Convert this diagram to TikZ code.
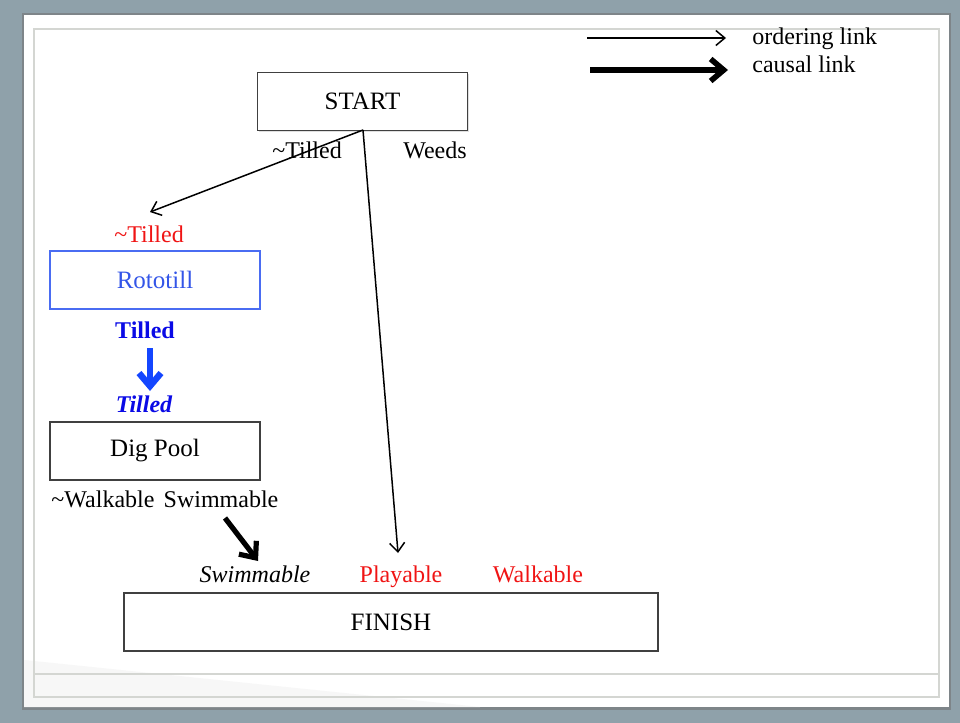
\documentclass[tikz,border=0pt]{standalone}
\usepackage{fontspec}
\setmainfont{Liberation Serif}
\usetikzlibrary{arrows.meta,shadows}
\definecolor{frameback}{HTML}{8FA1AA}
\definecolor{frameline}{HTML}{D4D6D2}
\definecolor{boxline}{HTML}{404040}
\definecolor{rotoblue}{HTML}{4A6CF2}
\definecolor{rototxt}{HTML}{3355E8}
\definecolor{labblue}{HTML}{0A0AE6}
\definecolor{arrblue}{HTML}{1446FF}
\definecolor{labred}{HTML}{F01414}
\begin{document}
\begin{tikzpicture}[x=0.5pt,y=-0.5pt,
  box/.style={draw=boxline, line width=0.9pt, fill=white, inner sep=0pt,
    minimum width=105pt, minimum height=29pt,
    font=\fontsize{12.5}{14}\selectfont,
    drop shadow={shadow xshift=0.5pt, shadow yshift=-0.7pt, opacity=0.25}},
  lbl/.style={inner sep=0pt, anchor=base, font=\fontsize{12}{14}\selectfont},
  ordlink/.style={line width=0.75pt, -{Straight Barb[length=4.5pt,width=7.5pt]}},
  causlink/.style={line width=2.6pt, -{Straight Barb[length=6.5pt,width=11pt]}},
]
\useasboundingbox (0,0) rectangle (960,723);
% background frame
\fill[frameback] (0,0) rectangle (960,723);
\fill[black!55, opacity=0.6] (22,13) rectangle (951,710);
\fill[white] (24,15) rectangle (949,707);
\fill[black!3] (24,660) -- (480,707) -- (24,707) -- cycle;
\draw[frameline, line width=0.6pt] (34,29) rectangle (939,697);
\draw[frameline, line width=0.6pt] (34,674) -- (939,674);

% legend
\coordinate (o1) at (587,38);
\coordinate (o2) at (726,38);
\coordinate (c1) at (590,70);
\coordinate (c2) at (728,70);
\draw[ordlink] (o1) -- (o2);
\draw[causlink, line width=2.8pt] (c1) -- (c2);
\node[lbl, anchor=base west] (ordtxt) at (752,44) {ordering link};
\node[lbl, anchor=base west] (caustxt) at (752,72) {causal link};

% boxes
\node[box] (start) at (362.5,101.5) {START};
\node[box, draw=rotoblue, text=rototxt] (roto) at (155,280) {Rototill};
\node[box] (dig) at (155,451) {Dig Pool};
\node[box, minimum width=267pt] (finish) at (391,622) {FINISH};

% labels
\node[lbl] (ntill1) at (307,158) {\textasciitilde Tilled};
\node[lbl] (weeds) at (435,158) {Weeds};
\node[lbl, text=labred] (ntill2) at (149,242) {\textasciitilde Tilled};
\node[lbl, text=labblue, font=\fontsize{12}{14}\selectfont\bfseries] (till1) at (145,338) {Tilled};
\node[lbl, text=labblue, font=\fontsize{12}{14}\selectfont\bfseries\itshape] (till2) at (144,412) {Tilled};
\node[lbl] (nwalk) at (103,507) {\textasciitilde Walkable};
\node[lbl] (swim1) at (221,507) {Swimmable};
\node[lbl, font=\fontsize{12}{14}\selectfont\itshape] (swim2) at (255,582) {Swimmable};
\node[lbl, text=labred] (play) at (401,582) {Playable};
\node[lbl, text=labred] (walk) at (538,582) {Walkable};

% connectors
\coordinate (sbot) at (363,130);
\coordinate (e1) at (150,212);
\coordinate (e2) at (398,553);
\draw[ordlink] (sbot) -- (e1);
\draw[ordlink] (sbot) -- (e2);
\coordinate (b1) at (150,348);
\coordinate (b2) at (150,391);
\draw[causlink, draw=arrblue, line width=3.2pt] (b1) -- (b2);
\coordinate (k1) at (225,518);
\coordinate (k2) at (258,561);
\draw[causlink] (k1) -- (k2);
\end{tikzpicture}
\end{document}
